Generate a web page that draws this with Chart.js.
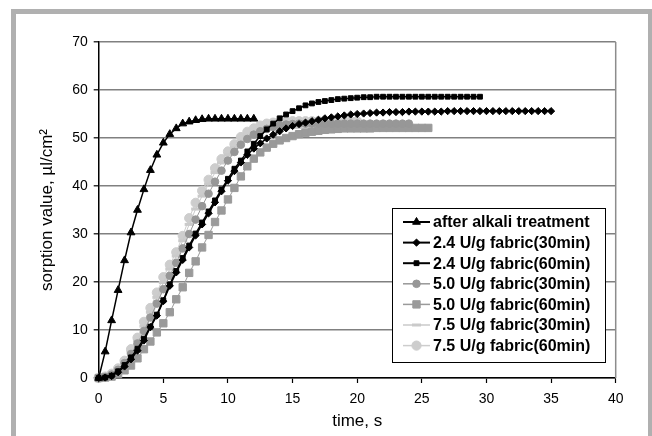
<!DOCTYPE html>
<html>
<head>
<meta charset="utf-8">
<script src="https://cdn.jsdelivr.net/npm/chart.js@4/dist/chart.umd.min.js"></script>
<style>
  html, body { margin: 0; padding: 0; background: #ffffff; }
  #wrap { position: relative; width: 652px; height: 436px; overflow: hidden; }
  #frame { position: absolute; left: 11px; top: 9px; width: 632px; height: 440px;
           border: 5px solid #b0b0b0; border-bottom: none; background: #ffffff; }
  #c { position: absolute; left: 0; top: 0; }
</style>
</head>
<body>
<div id="wrap">
  <div id="frame"></div>
  <canvas id="c" width="652" height="436"></canvas>
</div>
<script>
// Sampling times (s), one reading every half second
const times = [0, 0.5, 1, 1.5, 2, 2.5, 3, 3.5, 4, 4.5, 5, 5.5, 6, 6.5, 7, 7.5, 8, 8.5, 9, 9.5,
  10, 10.5, 11, 11.5, 12, 12.5, 13, 13.5, 14, 14.5, 15, 15.5, 16, 16.5, 17, 17.5, 18, 18.5, 19, 19.5,
  20, 20.5, 21, 21.5, 22, 22.5, 23, 23.5, 24, 24.5, 25, 25.5, 26, 26.5, 27, 27.5, 28, 28.5, 29, 29.5,
  30, 30.5, 31, 31.5, 32, 32.5, 33, 33.5, 34, 34.5, 35];

// Sorption values (µl/cm²) for each treatment
const alkali = [0, 5.5, 12, 18.3, 24.5, 30.3, 35, 39.3, 43.3, 46.5, 49, 50.8, 52, 53, 53.4, 53.7,
  53.9, 54, 54, 54, 54, 54, 54, 54, 54];

const u24_30 = [0, 0.1, 0.4, 1.2, 2.4, 3.9, 5.7, 7.8, 10.6, 13.0, 16.0, 19.2, 22.0, 24.6, 27.2, 29.7,
  32.0, 34.3, 36.6, 38.9, 41.1, 43.1, 44.9, 46.5, 47.8, 48.9, 49.9, 50.7, 51.4, 52.0, 52.5, 52.9,
  53.2, 53.5, 53.8, 54.1, 54.3, 54.5, 54.7, 54.9, 55.0, 55.1, 55.2, 55.3, 55.3, 55.4, 55.4, 55.4,
  55.5, 55.5, 55.5, 55.5, 55.5, 55.5, 55.6, 55.6, 55.6, 55.6, 55.6, 55.6, 55.6, 55.6, 55.6, 55.6,
  55.6, 55.6, 55.6, 55.6, 55.6, 55.6, 55.6];

const u24_60 = [0, 0.1, 0.5, 1.4, 2.7, 4.3, 6.1, 8.2, 10.7, 13.2, 16.2, 19.5, 22.3, 25.0, 27.6, 30.1,
  32.4, 34.7, 37.0, 39.3, 41.5, 43.6, 45.3, 47.2, 48.8, 50.4, 51.8, 53.0, 54.1, 54.9, 55.6, 56.2,
  56.8, 57.2, 57.5, 57.7, 57.9, 58.1, 58.2, 58.3, 58.4, 58.5, 58.5, 58.6, 58.6, 58.6, 58.6, 58.6,
  58.6, 58.6, 58.6, 58.6, 58.6, 58.6, 58.6, 58.6, 58.6, 58.6, 58.6, 58.6];

const u50_30 = [0, 0.2, 0.7, 1.7, 3.1, 5.0, 7.2, 9.8, 12.6, 15.5, 18.5, 21.3, 24.0, 27.0, 30.0, 33.0,
  35.8, 38.4, 40.9, 43.2, 45.3, 47.1, 48.6, 49.8, 50.7, 51.4, 51.9, 52.3, 52.6, 52.8, 52.9, 53.0,
  53.0, 53.0, 53.0, 53.0, 53.0, 53.0, 53.0, 53.0, 53.0, 53.0, 53.0, 53.0, 53.0, 53.0, 53.0, 53.0, 53.0];

const u50_60 = [0, 0.1, 0.3, 0.8, 1.6, 2.6, 4.1, 6.0, 7.6, 9.5, 11.4, 13.7, 16.4, 18.9, 21.9, 24.3,
  27.2, 29.8, 32.5, 34.9, 37.2, 39.6, 42.0, 44.1, 45.7, 47.0, 48.0, 48.8, 49.5, 50.0, 50.4, 50.8,
  51.1, 51.3, 51.5, 51.7, 51.8, 51.9, 52.0, 52.0, 52.0, 52.0, 52.0, 52.1, 52.1, 52.1, 52.1, 52.1,
  52.1, 52.1, 52.1, 52.1];

const u75_30 = [0, 0.2, 0.8, 1.8, 3.3, 5.4, 7.8, 10.8, 13.7, 16.8, 19.9, 22.7, 25.4, 28.6, 32.0, 35.2,
  37.9, 40.4, 42.8, 44.8, 46.5, 48.0, 49.3, 50.3, 51.0, 51.5, 51.8, 52.0, 52.1, 52.2, 52.2, 52.2,
  52.2, 52.2, 52.2, 52.2, 52.2, 52.2, 52.2, 52.2, 52.2];

const u75_60 = [0, 0.3, 0.9, 2.0, 3.6, 6.0, 8.4, 11.7, 14.6, 17.8, 21.0, 23.6, 26.2, 29.6, 33.3, 36.5,
  39.0, 41.3, 43.7, 45.6, 47.2, 48.7, 50.2, 51.3, 52.0, 52.6, 53.0, 53.2, 53.3, 53.4, 53.5, 53.5,
  53.5, 53.5, 53.5, 53.5, 53.5, 53.5, 53.5, 53.5, 53.5];

const seriesNames = ['after alkali treatment', '2.4 U/g fabric(30min)', '2.4 U/g fabric(60min)',
  '5.0 U/g fabric(30min)', '5.0 U/g fabric(60min)', '7.5 U/g fabric(30min)', '7.5 U/g fabric(60min)'];
const seriesValues = [alkali, u24_30, u24_60, u50_30, u50_60, u75_30, u75_60];

const xTicks = [0, 5, 10, 15, 20, 25, 30, 35, 40];
const yTicks = [0, 10, 20, 30, 40, 50, 60, 70];

// Marker and line look for each series
const styles = [
  { color: '#000000', point: 'triangle', radius: 4.5, line: 1.5, pbw: 1 },
  { color: '#000000', point: 'rectRot',  radius: 3.6, line: 1.5, pbw: 1 },
  { color: '#000000', point: 'rect',     radius: 3.4, line: 1.5, pbw: 1 },
  { color: '#979797', point: 'circle',   radius: 3.8, line: 1,   pbw: 1 },
  { color: '#9a9a9a', point: 'rect',     radius: 5.2, line: 1,   pbw: 1 },
  { color: '#cacaca', point: 'line',     radius: 4.5, line: 1,   pbw: 3 },
  { color: '#cdcdcd', point: 'circle',   radius: 4.6, line: 1,   pbw: 1 }
];

const FONT = "'Liberation Sans', Arial, Helvetica, sans-serif";

const datasets = seriesValues.map((vals, i) => ({
  label: seriesNames[i],
  data: vals.map((v, k) => ({ x: times[k], y: v })),
  borderColor: styles[i].color,
  backgroundColor: styles[i].color,
  borderWidth: styles[i].line,
  pointStyle: styles[i].point,
  pointRadius: styles[i].radius,
  pointBorderWidth: styles[i].pbw,
  pointBorderColor: styles[i].color,
  pointBackgroundColor: styles[i].color,
  tension: 0,
  clip: false
}));

// Plot-area right edge and the boxed legend
const decor = {
  id: 'decor',
  beforeDatasetsDraw(chart) {
    const { ctx, chartArea: a } = chart;
    ctx.save();
    ctx.strokeStyle = '#8c8c8c';
    ctx.lineWidth = 1.5;
    ctx.beginPath();
    ctx.moveTo(a.right, a.top);
    ctx.lineTo(a.right, a.bottom);
    ctx.stroke();
    ctx.restore();
  },
  afterDatasetsDraw(chart) {
    const { ctx } = chart;
    const bx = 392, by = 208, bw = 213, bh = 154;
    ctx.save();
    ctx.fillStyle = '#ffffff';
    ctx.fillRect(bx, by, bw, bh);
    ctx.strokeStyle = '#000000';
    ctx.lineWidth = 1;
    ctx.strokeRect(bx + 0.5, by + 0.5, bw, bh);
    const rowH = 20.6, y0 = 222;
    seriesNames.forEach((name, i) => {
      const y = y0 + i * rowH;
      const s = styles[i];
      ctx.strokeStyle = s.color;
      ctx.lineWidth = s.line + 0.5;
      ctx.beginPath();
      ctx.moveTo(403, y);
      ctx.lineTo(430, y);
      ctx.stroke();
      ctx.fillStyle = s.color;
      ctx.strokeStyle = s.color;
      ctx.lineWidth = s.pbw;
      Chart.helpers.drawPoint(ctx, {
        pointStyle: s.point, radius: s.radius, rotation: 0,
        borderWidth: s.pbw
      }, 416.5, y);
      ctx.fillStyle = '#000000';
      ctx.font = 'bold 16px ' + FONT;
      ctx.textAlign = 'left';
      ctx.textBaseline = 'middle';
      ctx.fillText(name, 433, y + 1);
    });
    ctx.restore();
  }
};

new Chart(document.getElementById('c'), {
  type: 'line',
  data: { datasets },
  options: {
    responsive: false,
    animation: false,
    devicePixelRatio: 1,
    layout: { padding: { left: 0, top: 42, right: 36.3, bottom: 0 } },
    plugins: { legend: { display: false }, tooltip: { enabled: false } },
    scales: {
      x: {
        type: 'linear', min: 0, max: 40,
        afterBuildTicks(scale) { scale.ticks = xTicks.map(v => ({ value: v })); },
        afterFit(scale) { scale.height = 58; },
        grid: { drawOnChartArea: false, drawTicks: true, tickLength: 5, tickColor: '#000000', tickWidth: 1.2 },
        border: { color: '#000000', width: 1.5 },
        ticks: { color: '#000000', padding: 8, font: { family: FONT, size: 14 }, maxRotation: 0 },
        title: { display: true, text: 'time, s', color: '#000000', padding: { top: 0, bottom: 4 },
                 font: { family: FONT, size: 17 } }
      },
      y: {
        type: 'linear', min: 0, max: 70,
        afterBuildTicks(scale) { scale.ticks = yTicks.map(v => ({ value: v })); },
        afterFit(scale) { scale.width = 98.7; },
        grid: { color: '#808080', lineWidth: 1.6, drawTicks: true, tickLength: 5, tickColor: '#000000', tickWidth: 1.2 },
        border: { color: '#000000', width: 1.5 },
        ticks: { color: '#000000', padding: 6, font: { family: FONT, size: 14 } },
        title: { display: true, text: 'sorption value, µl/cm²', color: '#000000', padding: { top: 37, bottom: 0 },
                 font: { family: FONT, size: 17 } }
      }
    }
  },
  plugins: [decor]
});
</script>
</body>
</html>
